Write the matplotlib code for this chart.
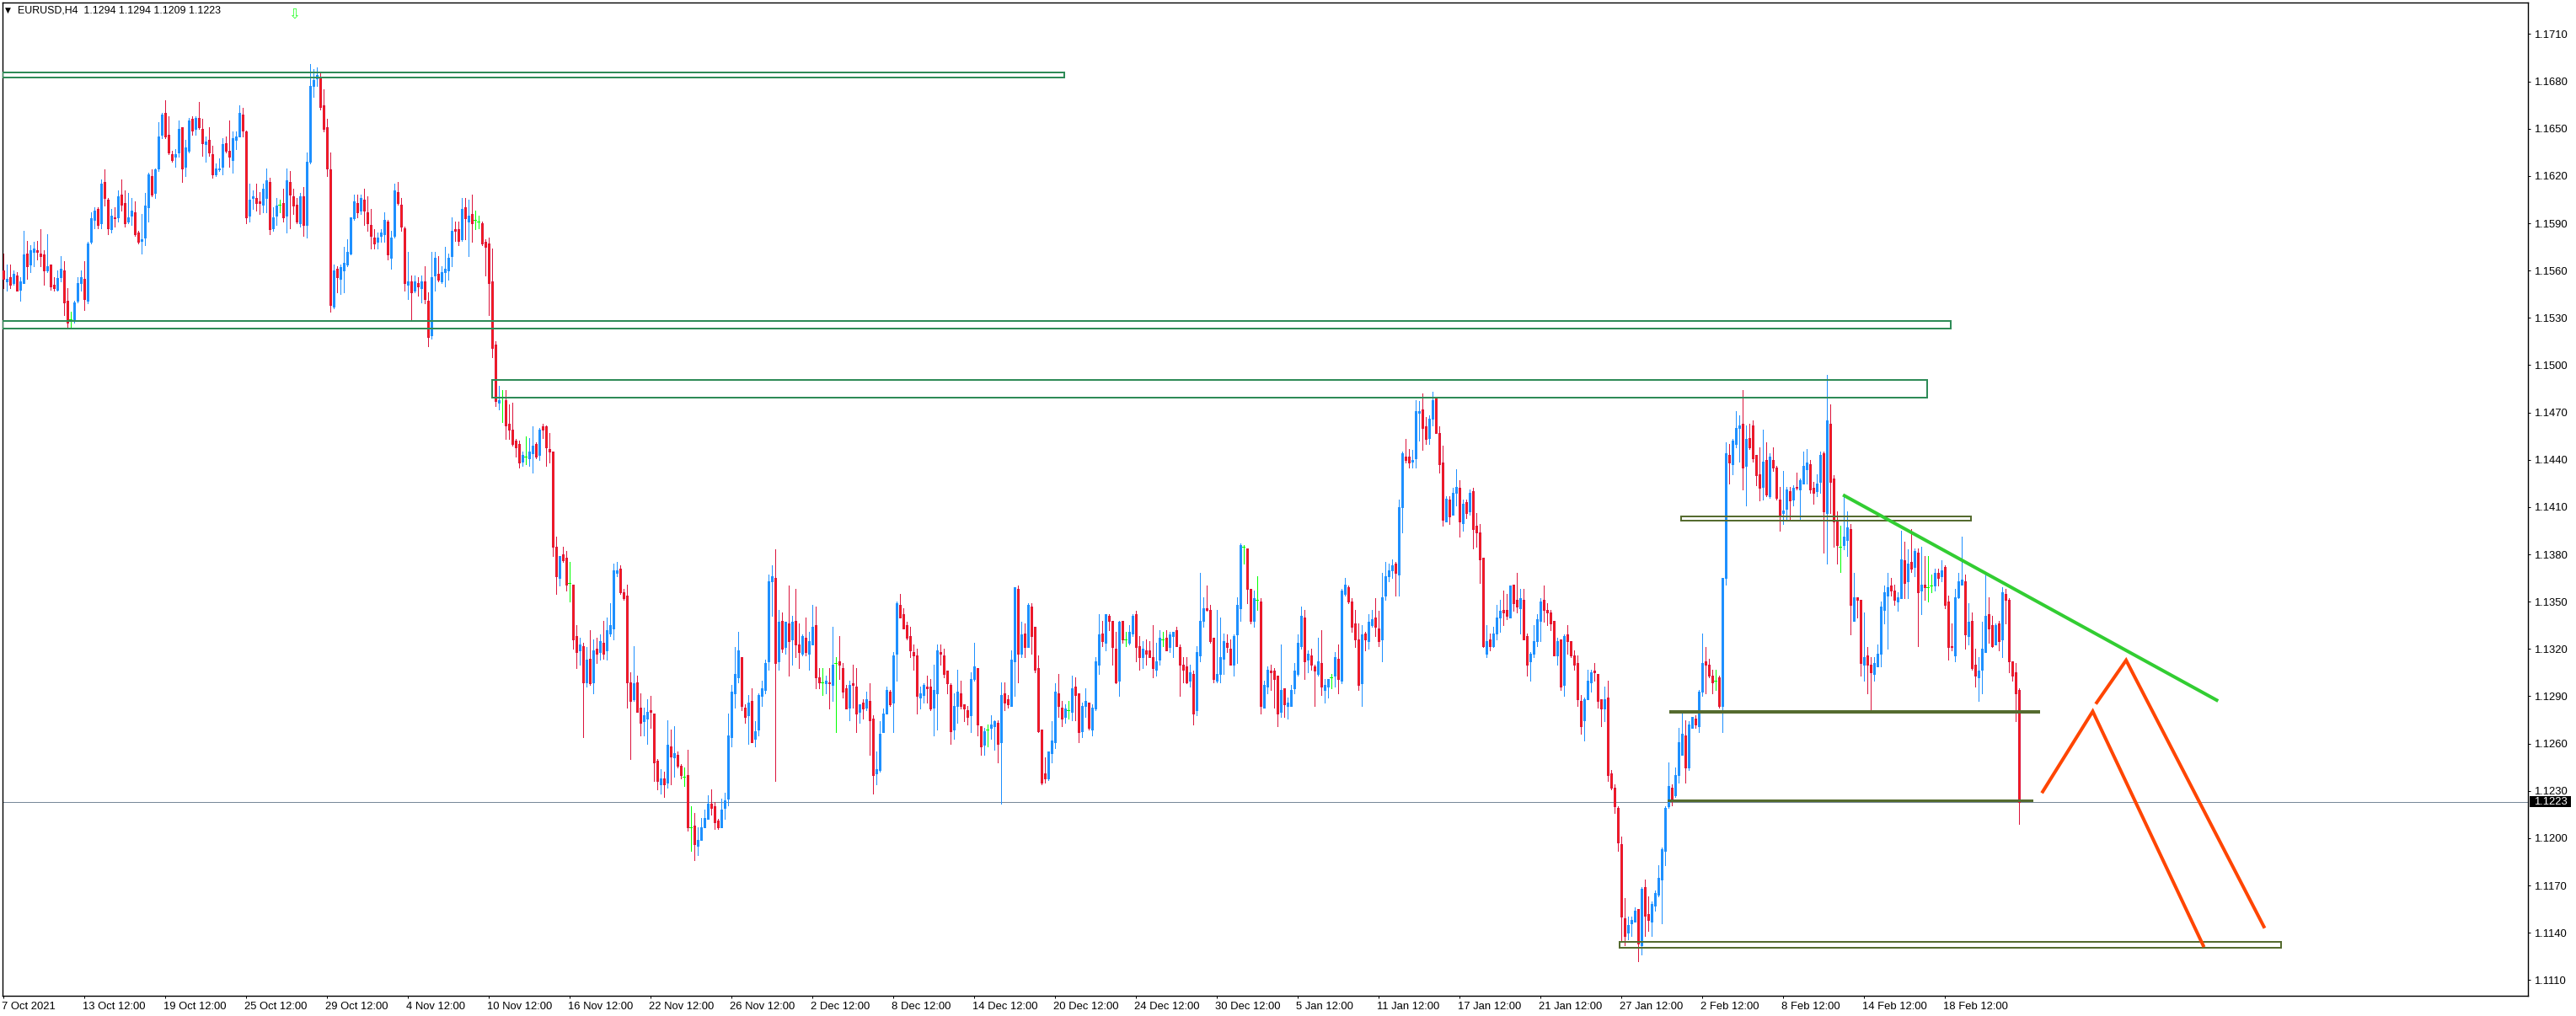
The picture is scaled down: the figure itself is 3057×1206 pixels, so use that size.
import matplotlib
matplotlib.use("Agg")
import matplotlib.pyplot as plt
import numpy as np
from matplotlib.patches import Rectangle
from matplotlib.transforms import ScaledTranslation

# Candles: (open, high, low, close) in pips above 1.1000
bars_oct_a = [
(560,571,549,555),(553,564,547,555),(556,564,549,551),(552,560,551,558),(557,559,547,547),(548,556,541,553),(552,585,552,570),(571,579,555,563),(564,576,559,573),(572,578,563,574),
(573,579,567,572),(571,586,563,569),(570,573,551,560),(560,583,559,563),(564,564,548,550),(551,556,547,549),(548,560,547,555),(556,569,553,561),(560,566,532,540),(541,549,524,527),
(529,534,523,529),(529,541,527,540),(541,556,540,552),(552,560,547,556),(555,566,535,542),(541,578,539,577),(578,597,577,593),(592,600,587,598),(599,600,587,589),(590,618,587,615),
(616,624,601,606),(605,606,583,587),(586,599,584,595),(594,600,588,593),(594,611,591,607),(608,618,598,602),(603,611,588,590),(591,609,590,594),(595,606,589,598),(597,604,582,583),
(584,585,577,578),(579,596,571,580),(581,609,576,601),(600,622,591,621),(620,624,607,608),(609,625,606,624),(625,654,623,645),(646,660,644,659),(660,668,644,645),(646,658,634,635),
(634,636,629,630),(632,637,626,634),(635,655,632,650),(651,651,616,625),(626,643,620,638),(636,657,635,655),(656,658,646,649),(650,658,646,657),(657,667,650,651),(650,656,633,641),
]
bars_oct_b = [
(640,645,629,642),(643,651,633,635),(634,639,619,621),(621,628,620,625),(624,631,623,625),(626,644,621,640),(641,645,635,636),(636,655,626,632),(630,648,622,644),(643,648,637,645),
(645,665,645,660),(659,663,645,649),(648,649,590,594),(595,615,591,605),(606,611,599,607),(606,615,598,603),(604,610,596,603),(602,615,597,612),(606,625,597,617),(616,619,583,586),
(587,600,585,594),(595,606,589,601),(602,605,597,602),(603,612,591,594),(595,625,584,617),(616,623,587,608),(607,612,596,601),(602,606,590,591),(590,609,588,607),(607,613,582,589),
(589,635,581,629),(629,691,628,677),(677,688,670,681),(682,689,677,684),(683,685,662,664),(665,675,648,650),(651,656,620,625),(624,635,534,538),(537,564,536,560),(561,563,546,556),
(555,564,545,562),(560,575,546,565),(564,580,563,572),(571,594,570,594),(593,608,592,604),(603,608,594,597),(598,608,596,606),(605,612,589,598),(597,607,585,590),(589,599,574,582),
(581,586,574,577),(578,584,574,581),(582,586,578,584),(583,597,578,592),(591,592,567,570),(568,585,561,581),(582,615,581,611),(610,616,602,603),(602,606,585,588),(587,588,547,552),
]
bars_nov_a = [
(551,572,542,553),(553,557,528,546),(547,557,546,553),(552,556,544,550),(549,557,540,553),(553,563,539,542),(541,546,512,518),(519,572,517,556),(557,572,547,568),(558,569,553,554),
(553,563,552,559),(559,575,550,561),(560,571,554,568),(569,594,563,585),(586,591,579,585),(586,591,576,579),(580,606,579,599),(600,606,580,593),(591,605,569,595),(596,608,578,590),
(592,598,586,592),(591,595,587,591),(590,591,576,577),(578,580,557,575),(577,581,532,552),(553,574,505,511),(513,515,474,477),(476,487,472,478),(480,484,464,480),(478,484,453,462),
(463,475,453,459),(459,476,449,450),(452,453,442,448),(450,452,435,438),(439,445,436,443),(442,455,437,442),(441,454,436,445),(444,461,432,449),(450,451,441,442),(443,460,440,459),
(461,463,454,459),(461,462,436,448),(447,457,438,445),(445,445,379,385),(385,391,355,366),(365,379,360,379),(380,385,375,376),(378,382,357,361),(362,375,350,362),(361,361,320,326),
(328,335,308,318),(319,327,310,323),(322,324,264,299),(299,321,296,313),(314,332,297,298),(299,326,292,319),(320,327,311,317),(318,329,313,325),(324,338,314,317),(319,340,313,332),
]
bars_nov_b = [
(330,349,328,335),(333,374,326,370),(368,375,366,370),(371,373,355,356),(356,358,351,352),(354,361,283,299),(299,305,250,287),(288,322,287,298),(299,303,280,280),(283,292,265,273),
(274,283,265,278),(276,288,260,280),(281,290,270,280),(279,279,236,248),(249,250,231,236),(234,244,228,238),(238,242,226,234),(235,275,232,259),(258,269,234,252),(251,271,239,254),
(253,255,245,246),(246,247,238,240),(239,245,233,239),(240,256,205,207),(207,220,192,207),(208,216,186,196),(195,207,189,199),(199,213,199,207),(207,218,207,213),(212,227,212,222),
(222,231,215,219),(220,223,206,210),(211,212,206,207),(207,225,207,218),(219,229,212,224),(225,279,221,265),(264,297,258,293),(292,321,283,304),(302,331,299,319),(315,315,281,284),
(283,285,273,277),(278,291,260,286),(287,295,261,261),(263,274,258,268),(269,292,265,291),(290,300,284,295),(294,313,292,311),(312,367,307,363),(363,373,341,366),(365,383,236,311),
(312,345,307,337),(338,343,318,320),(321,337,317,337),(336,360,303,325),(326,341,310,337),(338,358,315,323),(323,336,308,318),(317,329,316,328),(327,340,316,318),(317,331,307,325),
]
bars_dec_a = [
(323,348,323,334),(335,347,295,302),(302,308,295,299),(299,308,291,299),(298,303,292,300),(299,308,282,298),(297,334,287,310),(311,315,267,311),(312,328,301,310),(308,311,289,293),
(295,297,282,282),(283,300,275,297),(298,310,283,297),(296,308,267,279),(280,285,273,285),(286,288,276,282),(283,293,281,288),(287,298,253,275),(276,278,228,240),(241,255,234,244),
(243,274,242,266),(267,282,267,279),(279,296,279,294),(293,294,284,285),(286,318,267,316),(317,350,300,349),(348,355,340,340),(342,346,333,333),(335,337,326,327),(328,334,315,319),
(318,323,307,316),(316,320,279,290),(289,296,282,292),(291,298,286,297),(296,303,286,295),(296,301,281,282),(283,310,265,294),(292,323,269,319),(318,323,310,317),(316,320,302,304),
(306,306,292,298),(297,298,260,268),(269,292,263,284),(284,307,273,293),(292,300,282,284),(285,285,274,282),(281,284,272,277),(278,305,267,301),(301,324,300,309),(308,308,265,272),
(271,271,253,258),(259,270,253,268),(269,272,258,269),(270,278,263,272),(271,275,256,274),(273,275,248,260),(261,299,222,291),(292,299,281,286),(288,291,283,285),(284,319,284,313),
]
bars_dec_b = [
(312,359,290,359),(358,360,299,317),(317,337,315,329),(330,336,315,321),(321,349,321,348),(347,349,317,328),(334,334,305,307),(308,316,267,268),(269,269,234,235),(241,251,235,238),
(238,255,237,255),(254,274,248,262),(261,298,257,293),(292,304,277,284),(283,287,271,276),(277,285,273,282),(281,287,276,281),(280,303,275,295),(296,302,275,291),(292,292,261,267),
(268,286,264,284),(284,295,277,287),(286,286,269,270),(269,285,265,283),(282,315,281,312),(310,342,304,329),(330,338,322,325),(324,342,319,342),(341,342,332,338),(338,338,310,321),
(320,331,298,299),(300,338,290,337),(338,338,324,326),(326,331,322,326),(324,335,323,331),(330,342,328,341),(342,344,312,321),(322,328,307,315),(315,325,308,320),(319,326,310,317),
(319,325,315,315),(315,335,302,308),(307,324,303,312),(313,332,310,327),(326,331,322,326),(327,332,319,319),(321,331,318,329),(328,331,315,331),(332,334,322,322),(321,323,290,310),
(310,315,299,307),(309,315,298,299),(300,310,296,305),(304,306,272,279),(281,322,278,318),(316,368,312,338),(338,353,334,346),(346,360,344,345),(345,348,324,325),(327,327,299,301),
]
bars_jan_a = [
(300,345,299,304),(304,340,299,315),(314,330,304,325),(324,329,318,321),(320,326,310,310),(310,329,303,328),(329,353,311,348),(346,387,338,386),(385,386,374,385),(384,384,349,358),
(358,358,336,338),(338,357,334,352),(351,366,345,351),(350,352,279,284),(283,300,283,297),(296,309,292,307),(306,310,294,305),(306,308,283,301),(303,303,271,279),(280,323,277,294),
(295,295,277,285),(284,289,276,286),(284,297,284,294),(295,311,292,306),(304,329,303,324),(322,347,320,341),(340,345,301,312),(313,319,305,317),(316,320,307,310),(309,310,284,306),
(304,327,303,312),(311,332,291,296),(294,301,286,297),(296,301,289,301),(302,304,295,302),(303,318,296,315),(314,323,292,301),(300,358,298,357),(355,365,354,361),(359,360,349,350),
(350,352,331,334),(336,345,321,326),(326,336,294,297),(298,335,284,329),(330,331,319,326),(325,342,320,337),(335,345,334,339),(340,352,328,334),(333,344,322,325),(326,368,312,353),
(354,375,351,366),(366,374,363,370),(370,377,365,373),(374,375,354,368),(367,415,354,410),(410,445,394,444),(442,453,438,440),(442,447,435,438),(439,446,435,440),(441,478,435,471),
]
bars_jan_b = [
(470,477,452,471),(472,482,446,460),(461,467,450,453),(454,468,450,466),(466,483,462,478),(480,480,457,457),(457,461,432,437),(438,449,398,402),(401,417,401,415),(415,417,399,404),
(405,422,405,419),(419,434,411,423),(422,427,391,401),(400,415,395,412),(413,415,403,406),(407,421,405,419),(420,422,384,396),(398,406,385,394),(394,399,362,377),(378,378,321,322),
(317,335,315,325),(326,330,319,322),(322,334,321,330),(330,348,326,340),(340,351,331,344),(345,357,335,343),(345,355,339,341),(340,360,340,360),(361,361,344,349),(351,368,343,347),
(346,358,330,352),(351,358,326,326),(328,330,303,310),(312,318,300,317),(317,335,315,325),(325,342,322,339),(338,352,325,350),(351,360,337,345),(345,349,335,343),(343,345,332,336),
(338,338,316,316),(316,327,310,325),(326,326,294,296),(297,329,290,328),(329,335,317,325),(325,325,315,316),(316,319,307,310),(311,316,284,288),(287,291,266,271),(275,289,262,288),
(288,307,288,300),(299,307,293,305),(306,311,300,305),(304,304,283,287),(288,288,271,282),(282,296,274,288),(289,300,236,240),(241,243,231,232),(232,234,216,220),(219,220,192,197),
]
bars_feb_a = [
(196,201,135,150),(149,162,132,138),(140,150,136,145),(146,150,138,148),(147,156,147,154),(155,155,122,133),(132,169,126,168),(169,174,138,151),(152,163,141,148),(147,160,138,158),
(157,167,154,165),(164,183,163,175),(174,194,146,193),(192,220,183,219),(220,248,219,233),(232,234,221,225),(227,245,226,240),(240,270,235,261),(253,279,253,266),(265,275,235,245),
(245,274,243,272),(270,277,270,277),(276,278,270,272),(271,294,267,293),(293,330,290,311),(312,321,292,310),(310,314,302,303),(303,307,292,299),(300,307,294,300),(302,303,283,284),
(284,365,267,365),(365,451,361,444),(443,450,425,438),(437,453,431,452),(450,471,448,460),(460,468,439,462),(463,484,421,435),(436,462,411,453),(454,463,447,448),(462,465,439,441),
(443,443,424,430),(431,448,414,422),(423,459,415,439),(440,451,417,418),(417,444,416,442),(440,448,433,435),(435,436,415,416),(415,423,395,405),(406,433,399,408),(409,423,402,421),
(420,423,402,414),(415,424,411,422),(423,432,421,422),(421,428,402,427),(425,445,425,436),(434,447,425,438),(437,440,419,421),(422,426,412,419),(420,431,417,425),(426,445,419,443),
]
bars_feb_b = [
(444,445,381,407),(406,494,374,465),(463,475,406,426),(428,430,385,401),(401,407,374,386),(385,398,369,385),(386,417,383,391),(389,407,379,397),(396,399,329,348),(338,368,338,353),
(353,353,340,351),(351,351,303,311),(310,343,300,315),(316,321,292,310),(310,315,280,305),(304,315,300,311),(309,323,309,317),(317,350,309,347),(345,360,336,356),(354,368,320,359),
(360,365,354,357),(357,361,348,351),(350,356,344,353),(352,395,352,377),(376,388,352,362),(363,383,352,374),(375,396,369,371),(372,384,366,382),(381,384,322,356),(357,385,342,361),
(361,379,351,359),(359,379,350,359),(360,367,356,360),(360,371,357,368),(368,371,360,365),(366,376,363,370),(372,373,346,348),(350,354,313,321),(322,336,319,321),(316,358,312,353),
(353,368,352,363),(361,391,361,364),(363,367,320,329),(328,349,323,337),(338,343,307,308),(310,320,296,303),(302,315,287,306),(307,337,292,320),(318,367,318,341),(342,353,324,333),
(335,341,321,322),(323,336,323,335),(336,338,319,325),(326,359,315,356),(355,358,336,351),(351,352,305,312),(312,312,300,303),(305,311,274,292),(294,295,209,223),
]
bar_groups = [bars_oct_a, bars_oct_b, bars_nov_a, bars_nov_b, bars_dec_a, bars_dec_b, bars_jan_a, bars_jan_b, bars_feb_a, bars_feb_b]

tick_labels = ["7 Oct 2021","13 Oct 12:00","19 Oct 12:00","25 Oct 12:00","29 Oct 12:00","4 Nov 12:00","10 Nov 12:00",
               "16 Nov 12:00","22 Nov 12:00","26 Nov 12:00","2 Dec 12:00","8 Dec 12:00","14 Dec 12:00","20 Dec 12:00",
               "24 Dec 12:00","30 Dec 12:00","5 Jan 12:00","11 Jan 12:00","17 Jan 12:00","21 Jan 12:00","27 Jan 12:00",
               "2 Feb 12:00","8 Feb 12:00","14 Feb 12:00","18 Feb 12:00"]
tick_bars = list(range(0, 600, 24))
price_ticks = [1.1110,1.1140,1.1170,1.1200,1.1230,1.1260,1.1290,1.1320,1.1350,1.1380,1.1410,1.1440,1.1470,1.1500,
               1.1530,1.1560,1.1590,1.1620,1.1650,1.1680,1.1710]
last_price = 1.1223

# Zones: (bar start, bar end, low pips, high pips)
sea_zones = [(-0.25,314.9,682.7,685.4),(-0.25,577.9,523.2,528.0),(145.0,570.9,479.4,490.6)]
olive_zones = [(497.9,583.9,401.5,403.8),(494.6,604.1,279.6,280.4),(494.1,602.1,223.4,224.2),(479.6,675.9,130.4,134.2)]
# Trend and projection lines: (bar, pips) vertices
green_line = [(545.9,417.7),(657.2,287.0)]
orange_a = [(604.9,228.6),(620.0,280.4),(653.0,130.9)]
orange_b = [(620.9,285.1),(629.9,312.8),(671.0,142.9)]

plt.rcParams['font.family'] = ['Liberation Sans', 'DejaVu Sans']
W, H = 3057, 1206
L, R, T, B = 2.5, 3000, 3, 1182
PX = 0.72
fig = plt.figure(figsize=(W/100, H/100), dpi=100, facecolor='white')
ax = fig.add_axes([L/W, 1-B/H, (R-L)/W, (B-T)/H])
ax.set_xlim((L-3.5)/4, (R-3.5)/4)
ax.set_ylim(1.1100, 1.1730)

arr = np.array([b for g in bar_groups for b in g], dtype=float)
O, Hi, Lo, C = (1.1 + arr[:, k]/1e4 for k in range(4))
x = np.arange(len(arr))
up, dn, doji = C > O, C < O, C == O

ax.vlines(x[up], Lo[up], Hi[up], color='#1E90FF', lw=PX, antialiased=False, zorder=2)
ax.vlines(x[dn], Lo[dn], Hi[dn], color='#DC143C', lw=PX, antialiased=False, zorder=2)
ax.vlines(x[doji], Lo[doji], Hi[doji], color='#00FF00', lw=PX, antialiased=False, zorder=2)
ax.hlines(C[doji], x[doji]-0.4, x[doji]+0.4, color='#00FF00', lw=PX, antialiased=False, zorder=2)
ax.bar(x[up], (C-O)[up], bottom=O[up], width=0.5, color='#1E90FF', edgecolor='#1E90FF', lw=PX, antialiased=False, zorder=3)
ax.bar(x[dn], (O-C)[dn], bottom=C[dn], width=0.5, color='#FF2010', edgecolor='#DC143C', lw=PX, antialiased=False, zorder=3)

ax.axhline(last_price, color='#778899', lw=PX, zorder=1)

for zones, col, z in ((sea_zones, '#2E8B57', 4), (olive_zones, '#556B2F', 4)):
    for x0, x1, lo, hi in zones:
        ax.add_patch(Rectangle((x0, 1.1+lo/1e4), x1-x0, (hi-lo)/1e4, fill=False, edgecolor=col, lw=2*PX, zorder=z))

for pts, col in ((green_line, '#32CD32'), (orange_a, '#FF4500'), (orange_b, '#FF4500')):
    a = np.array(pts)
    ax.plot(a[:, 0], 1.1+a[:, 1]/1e4, color=col, lw=4*PX, solid_capstyle='butt', solid_joinstyle='miter', zorder=5)

for s in ax.spines.values():
    s.set_linewidth(1.4*PX)
    s.set_color('black')

ax.yaxis.tick_right()
ax.set_yticks(price_ticks)
ax.set_yticklabels([f"{v:.4f}" for v in price_ticks])
ax.set_xticks(tick_bars)
ax.set_xticklabels(tick_labels, ha='left')
ax.tick_params(axis='both', length=2.4, width=PX, labelsize=9.4, colors='black')
ax.tick_params(axis='y', pad=3)
ax.tick_params(axis='x', pad=2.8)
shift = ScaledTranslation(-1/100, 0, fig.dpi_scale_trans)
for lab in ax.get_xticklabels():
    lab.set_transform(lab.get_transform() + shift)

# last price flag
ytr = ax.get_yaxis_transform()
ax.add_patch(Rectangle(((3002-L)/(R-L), last_price-3.5e-4), 49/(R-L), 7e-4, transform=ytr,
                       facecolor='black', edgecolor='none', clip_on=False, zorder=6))
ax.text((3007-L)/(R-L), last_price, f"{last_price:.4f}", transform=ytr, color='white', fontsize=9.4,
        va='center', ha='left', zorder=7, clip_on=False)

# header
fig.text(6/W, 1-12.5/H, "\u25BC", fontsize=6.5, family='DejaVu Sans', color='black', va='center', ha='left')
fig.text(21/W, 1-12.5/H, "EURUSD,H4  1.1294 1.1294 1.1209 1.1223", fontsize=8.9, color='black', va='center', ha='left')
fig.text(349.5/W, 1-16.5/H, "\u21E9", fontsize=12, family='DejaVu Sans', color='#32FF32', va='center', ha='center')

fig.savefig('out.png', dpi=100, facecolor='white')
